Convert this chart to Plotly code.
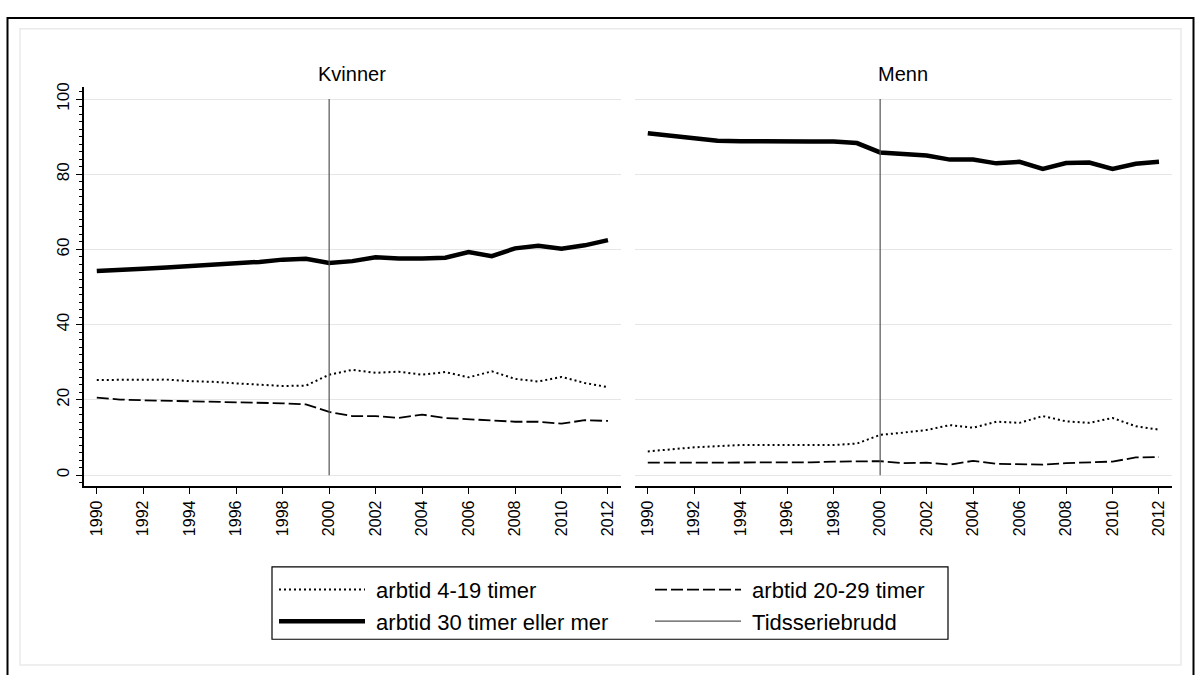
import plotly.graph_objs as go

# data
years = [1990, 1991, 1992, 1993, 1994, 1995, 1996, 1997, 1998, 1999, 2000, 2001,
         2002, 2003, 2004, 2005, 2006, 2007, 2008, 2009, 2010, 2011, 2012]
year_ticks = [1990, 1992, 1994, 1996, 1998, 2000, 2002, 2004, 2006, 2008, 2010, 2012]

kvinner_4_19 = [25.3, 25.4, 25.5, 25.4, 25.0, 24.8, 24.4, 24.1, 23.7, 23.8, 26.7, 28.0,
                27.2, 27.5, 26.7, 27.4, 26.0, 27.6, 25.6, 24.9, 26.1, 24.5, 23.4]
kvinner_20_29 = [20.6, 20.1, 19.9, 19.8, 19.6, 19.5, 19.4, 19.2, 19.1, 18.8, 16.8, 15.7,
                 15.7, 15.2, 16.1, 15.2, 14.8, 14.5, 14.2, 14.2, 13.7, 14.6, 14.4]
kvinner_30 = [54.3, 54.5, 54.9, 55.2, 55.6, 55.8, 56.2, 56.7, 57.3, 57.5, 56.4, 56.9,
              57.9, 57.6, 57.6, 57.8, 59.3, 58.2, 60.3, 61.0, 60.2, 61.1, 62.5]

menn_4_19 = [6.3, 6.9, 7.4, 7.7, 8.0, 8.0, 8.0, 8.0, 8.0, 8.4, 10.7, 11.3,
             12.0, 13.3, 12.6, 14.2, 13.9, 15.7, 14.3, 13.9, 15.2, 13.0, 12.1]
menn_20_29 = [3.3, 3.3, 3.3, 3.4, 3.4, 3.4, 3.5, 3.4, 3.6, 3.7, 3.7, 3.2,
              3.3, 2.8, 3.8, 3.0, 3.0, 2.8, 3.2, 3.4, 3.6, 4.7, 4.8]
menn_30 = [90.9, 90.2, 89.5, 88.9, 88.8, 88.7, 88.7, 88.7, 88.7, 88.3, 85.8, 85.5,
           85.0, 83.9, 83.9, 82.9, 83.3, 81.4, 83.0, 83.1, 81.4, 82.8, 83.3]

break_year = [2000, 2000]
break_span = [0, 100]

panels = ["Kvinner", "Menn"]
series_names = ["arbtid 4-19 timer", "arbtid 20-29 timer", "arbtid 30 timer eller mer"]
break_name = "Tidsseriebrudd"

W, H = 1201, 675
FONT = "Liberation Sans, Arial, sans-serif"
PAD = "\u00a0"  # small gap between legend symbol and text


def px(x):
    return x / W


def py(y):
    return 1 - y / H


styles = [
    dict(color="black", width=2, dash="2px,3px"),
    dict(color="black", width=1.8, dash="12px,4px"),
    dict(color="black", width=4.5, dash="solid"),
]
legends = ["legend", "legend2", "legend"]

fig = go.Figure()

panel_data = [[kvinner_4_19, kvinner_20_29, kvinner_30],
              [menn_4_19, menn_20_29, menn_30]]

for p, data in enumerate(panel_data):
    xa = "x" if p == 0 else "x2"
    ya = "y" if p == 0 else "y2"
    for name, vals, st, lg in zip(series_names, data, styles, legends):
        fig.add_trace(go.Scatter(x=years, y=vals, mode="lines", name=PAD + name,
                                 line=st, xaxis=xa, yaxis=ya, legend=lg,
                                 showlegend=(p == 0)))
    fig.add_trace(go.Scatter(x=break_year, y=break_span, mode="lines",
                             name=PAD + break_name,
                             line=dict(color="#555555", width=1.2),
                             xaxis=xa, yaxis=ya, legend="legend2",
                             showlegend=(p == 0)))

xrange = [1989.45, 2012.56]
yrange = [-3.0, 103.1]
ydom = [py(485), py(83)]

common_x = dict(range=xrange, tickmode="array", tickvals=year_ticks,
                ticktext=[str(t) for t in year_ticks], tickangle=-90,
                ticks="outside", ticklen=6, tickwidth=1.2, tickcolor="black",
                showline=True, linecolor="black", linewidth=1.5,
                showgrid=False, zeroline=False,
                tickfont=dict(family=FONT, size=16, color="black"))

legend_common = dict(xanchor="left", yanchor="top", orientation="v",
                     bgcolor="rgba(0,0,0,0)", itemwidth=86, tracegroupgap=6,
                     traceorder="normal",
                     font=dict(family=FONT, size=22, color="black"))

fig.update_layout(
    width=W, height=H,
    margin=dict(l=0, r=0, t=0, b=0),
    paper_bgcolor="white", plot_bgcolor="white",
    font=dict(family=FONT, color="black"),
    xaxis=dict(domain=[px(84), px(621)], anchor="y", **common_x),
    xaxis2=dict(domain=[px(635), px(1172)], anchor="y2", **common_x),
    yaxis=dict(domain=ydom, range=yrange, anchor="x",
               tickvals=[0, 20, 40, 60, 80, 100], tickangle=-90,
               ticks="outside", ticklen=6, tickwidth=1.2, tickcolor="black",
               minor=dict(dtick=2, tick0=0, ticks="outside", ticklen=3,
                          tickcolor="black", tickwidth=1, showgrid=False),
               showline=True, linecolor="black", linewidth=1.5,
               showgrid=True, gridcolor="#e6e6e6", gridwidth=1.2,
               zeroline=False,
               tickfont=dict(family=FONT, size=17, color="black")),
    yaxis2=dict(domain=ydom, range=yrange, anchor="x2",
                tickvals=[0, 20, 40, 60, 80, 100], showticklabels=False,
                showline=False, showgrid=True, gridcolor="#e6e6e6",
                gridwidth=1.2, zeroline=False),
    legend=dict(x=px(274), y=py(568), **legend_common),
    legend2=dict(x=px(650), y=py(568), **legend_common),
    showlegend=True,
)

# panel titles
for name, (a, b) in zip(panels, [(84, 621), (635, 1172)]):
    fig.add_annotation(text=name, x=px((a + b) / 2), y=py(70), xref="paper",
                       yref="paper", xanchor="center", yanchor="middle",
                       showarrow=False,
                       font=dict(family=FONT, size=20, color="black"))

# legend box and outer frames
fig.add_shape(type="rect", xref="paper", yref="paper",
              x0=px(272), x1=px(948), y0=py(566), y1=py(639),
              line=dict(color="black", width=1.2))
fig.add_shape(type="rect", xref="paper", yref="paper",
              x0=px(20), x1=px(1181), y0=py(24), y1=py(665),
              line=dict(color="#eaeaea", width=1.5), layer="below")
fig.add_shape(type="rect", xref="paper", yref="paper",
              x0=px(7.5), x1=px(1193.5), y0=py(13), y1=py(700),
              line=dict(color="black", width=2))

# pin the figure to the top-left corner of the page
pin = ("document.body.style.margin='0';"
       "var gd=document.getElementById('{plot_id}');"
       "gd.style.position='absolute';gd.style.top='0px';gd.style.left='0px';")
fig.write_html("out.html", config={"displayModeBar": False}, post_script=pin)
